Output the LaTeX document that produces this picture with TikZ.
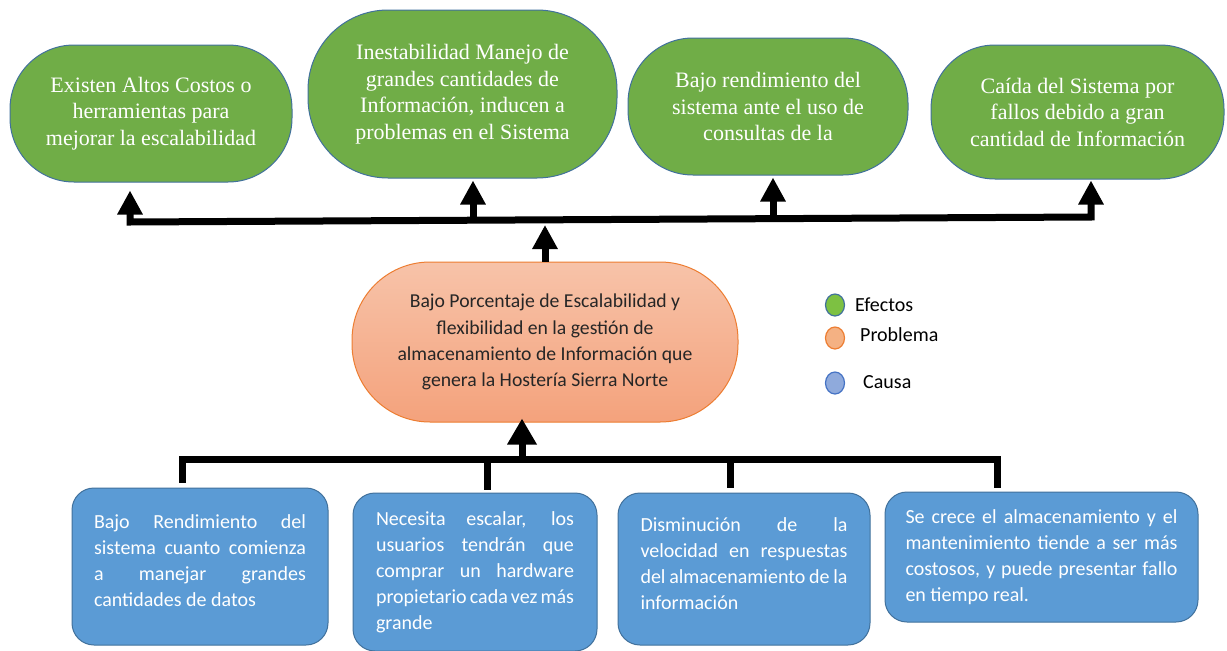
\documentclass[tikz,border=0pt]{standalone}
\usepackage{fontspec}
\setmainfont{Liberation Serif}
\newfontfamily\calfont{Carlito}
\usetikzlibrary{arrows.meta,calc,shapes.geometric}
\definecolor{effgreen}{HTML}{70AD47}
\definecolor{effborder}{HTML}{41719C}
\definecolor{causeblue}{HTML}{5B9BD5}
\definecolor{probtop}{HTML}{F7C3A9}
\definecolor{probbot}{HTML}{F4A27C}
\definecolor{probborder}{HTML}{ED7D31}
\definecolor{legblue}{HTML}{8FAADC}
\definecolor{legblueb}{HTML}{4472C4}
\definecolor{leggreen}{HTML}{7DC142}
\definecolor{legorange}{HTML}{F4B183}
\tikzset{
 effect/.style={draw=effborder, line width=1pt, fill=effgreen, text=white, align=center,
   font=\fontsize{22}{26.5}\selectfont, inner sep=0pt},
 cause/.style={draw=effborder, line width=1pt, fill=causeblue, text=white, rounded corners=22pt,
   font=\calfont\fontsize{20}{26}\selectfont, inner sep=0pt},
 problem/.style={draw=probborder, line width=1pt, top color=probtop, bottom color=probbot,
   text=black!85, align=center, font=\calfont\fontsize{19.7}{26.2}\selectfont,
   rounded corners=78pt, inner sep=0pt},
 bar/.style={line width=7pt, line join=miter},
 upbar/.style={line width=7pt, line join=miter, -{Triangle[length=24pt,width=24pt]}},
 bigupbar/.style={line width=7pt, -{Triangle[length=26pt,width=28pt]}},
 bothbar/.style={line width=7pt, line join=miter, {Triangle[length=24pt,width=24pt]}-{Triangle[length=24pt,width=24pt]}},
 legdot/.style={ellipse, minimum width=19pt, minimum height=22pt, inner sep=0pt, line width=1.2pt},
 legtext/.style={font=\calfont\fontsize{20}{22}\selectfont, anchor=west, inner sep=0pt}
}
\newcommand{\jbox}[3]{\parbox{#1}{\tolerance=10000\hyphenpenalty=10000\emergencystretch=20pt #3\par\vspace*{#2}}}
\begin{document}
\begin{tikzpicture}[x=1pt,y=-1pt]
\useasboundingbox (0,0) rectangle (1227,651);
\fill[white] (0,0) rectangle (1227,651);

% effects
\node[effect, minimum width=282pt, minimum height=137pt, rounded corners=64pt] (A) at (151,113.5)
  {Existen Altos Costos o\\herramientas para\\mejorar la escalabilidad};
\node[effect, minimum width=309pt, minimum height=168pt, rounded corners=80pt] (B) at (462.5,94)
  {Inestabilidad Manejo de\\grandes cantidades de\\Información, inducen a\\problemas en el Sistema};
\node[effect, minimum width=280pt, minimum height=137pt, rounded corners=65pt] (C) at (768,106.5)
  {Bajo rendimiento del\\sistema ante el uso de\\consultas de la};
\node[effect, minimum width=293pt, minimum height=134pt, rounded corners=64pt] (D) at (1077.5,112)
  {Caída del Sistema por\\fallos debido a gran\\cantidad de Información};

% problem
\node[problem, minimum width=386pt, minimum height=160pt] (P) at (545,342)
  {Bajo Porcentaje de Escalabilidad y\\flexibilidad en la gestión de\\almacenamiento de Información que\\genera la Hostería Sierra Norte};

% causes
\node[cause, minimum width=256pt, minimum height=157pt] (K1) at (200,566.5)
  {\jbox{212pt}{12pt}{Bajo Rendimiento del\linebreak sistema cuanto comienza\linebreak a manejar grandes\linebreak cantidades de datos}};
\node[cause, minimum width=244pt, minimum height=158pt] (K2) at (475,572)
  {\jbox{198pt}{0pt}{Necesita escalar, los\linebreak usuarios tendrán que\linebreak comprar un hardware\linebreak propietario cada vez más\linebreak grande}};
\node[cause, minimum width=252pt, minimum height=152pt] (K3) at (744,569)
  {\jbox{207pt}{10pt}{Disminución de la\linebreak velocidad en respuestas\linebreak del almacenamiento de la\linebreak información}};
\node[cause, minimum width=313pt, minimum height=130pt] (K4) at (1041.5,557)
  {\jbox{272pt}{0pt}{Se crece el almacenamiento y el\linebreak mantenimiento tiende a ser más\linebreak costosos, y puede presentar fallo\linebreak en tiempo real.}};

% legend
\node[legdot, fill=leggreen, draw=effborder] (L1) at (835,305) {};
\node[legtext] (T1) at (855,305) {Efectos};
\node[legdot, fill=legorange, draw=probborder] (L2) at (835,338) {};
\node[legtext] (T2) at (860,335) {Problema};
\node[legdot, fill=legblue, draw=legblueb] (L3) at (835,383) {};
\node[legtext] (T3) at (863,382) {Causa};

% top connectors
\coordinate (tA) at (130,222);
\coordinate (tB) at (473,220);
\coordinate (tC) at (773,218.5);
\coordinate (tD) at (1091,217);
\coordinate (tP) at (545,225);
\draw[bothbar] ($(tA |- A.south)+(0,8)$) -- (tA) -- (tD) -- ($(tD |- D.south)+(0,1)$);
\draw[upbar] (tB) -- ($(tB |- B.south)+(0,2)$);
\draw[upbar] (tC) -- ($(tC |- C.south)+(0,2)$);
\draw[upbar] (P.north) -- (tP);

% bottom connectors
\coordinate (b1) at (182,459);
\coordinate (b2) at (487,459);
\coordinate (b3) at (730,459);
\coordinate (b4) at (997,459);
\coordinate (bp) at (522,459);
\draw[bar] ($(b1 |- K1.north)+(0,-5)$) -- (b1) -- (b4) -- ($(b4 |- K4.north)+(0,-4)$);
\draw[bar] (b2) -- ($(b2 |- K2.north)+(0,-3)$);
\draw[bar] (b3) -- ($(b3 |- K3.north)+(0,-5)$);
\draw[bigupbar] (bp) -- ($(bp |- P.south)+(0,-4)$);
\end{tikzpicture}
\end{document}
